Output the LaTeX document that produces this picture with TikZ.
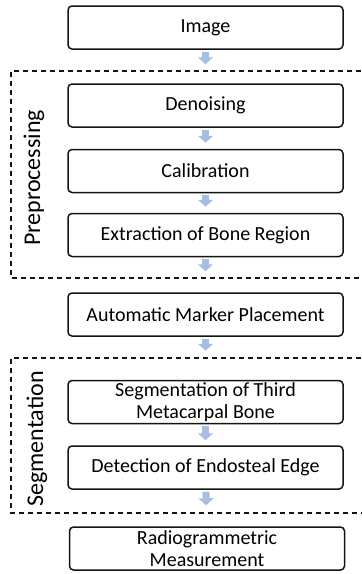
\documentclass[tikz,border=0pt]{standalone}
\usepackage{fontspec}
\setmainfont{Carlito}
\usepackage{xcolor}
\definecolor{Col1}{RGB}{20,20,20}
\definecolor{Col2}{RGB}{168,190,224}
\usepackage{tikz}
\usetikzlibrary{arrows.meta}
\tikzstyle{Step}=[rectangle,rounded corners=4pt,draw=Col1,fill=white,line width=1.5pt,
minimum width=275pt,minimum height=43pt,inner sep=0pt,align=center,
font=\fontsize{20}{22.5}\selectfont]
\tikzstyle{Flow}=[draw=Col2,line width=7pt,shorten <=2pt,
-{Triangle[width=15pt,length=7pt]}]
\tikzstyle{Group}=[draw=Col1,line width=1.8pt,dash pattern=on 5pt off 4pt]
\tikzstyle{GroupLabel}=[rotate=90,font=\fontsize{24}{28}\selectfont]

\begin{document}
\begin{tikzpicture}[x=1pt,y=-1pt]
        \useasboundingbox(0,0)rectangle(362,574);
        \clip(0,0)rectangle(362,574);
        % open on the right, runs off the page
        \draw[Group](370,71)--(11,71)--(11,278)--(370,278);
        \draw[Group](370,358)--(11,358)--(11,513)--(370,513);
        \node[GroupLabel](pre)at(34,178){Preprocessing};
        \node[GroupLabel](segl)at(37,439){Segmentation};
        \node[Step](img)at(205.5,27.5){Image};
        \node[Step](den)at(205.5,105.5){Denoising};
        \node[Step](cal)at(205.5,171){Calibration};
        \node[Step](ext)at(205.5,235){Extraction of Bone Region};
        \node[Step](amp)at(205.5,314.5){Automatic Marker Placement};
        \node[Step](seg)at(205.5,402){Segmentation of Third\\Metacarpal Bone};
        \node[Step](det)at(205.5,467.5){Detection of Endosteal Edge};
        \node[Step](rad)at(207,548.5){Radiogrammetric\\Measurement};
        \draw[Flow,shorten >=19pt](img)--(den);
        \draw[Flow,shorten >=6pt](den)--(cal);
        \draw[Flow,shorten >=6pt](cal)--(ext);
        \draw[Flow,shorten >=21pt](ext)--(amp);
        \draw[Flow,shorten >=29pt](amp)--(seg);
        \draw[Flow,shorten >=5pt](seg)--(det);
        \draw[Flow,shorten >=21pt](det)--(rad);
    \end{tikzpicture}
\end{document}
